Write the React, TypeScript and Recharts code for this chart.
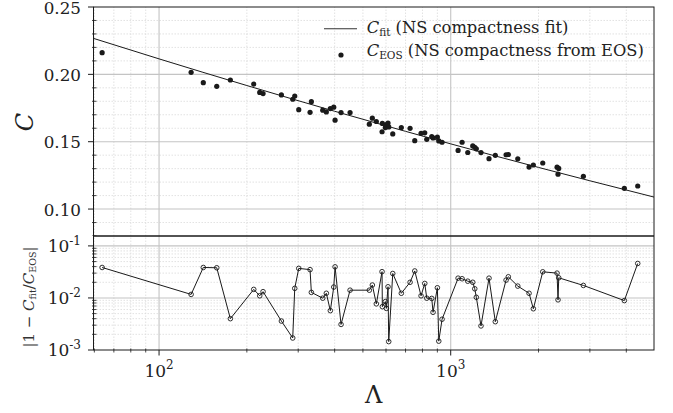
import React from "react"
import { ComposedChart, Line, Scatter, XAxis, YAxis, ReferenceLine } from "recharts"

// Λ of every EOS point (shared by both panels)
const lambdaEos = [
  63.8, 128.8, 141.8, 157.7, 175.6, 211.2, 221.4, 227.3, 262.7, 287.3,
  291.9, 301.3, 329.4, 332.8, 364.1, 374.6, 386.6, 397.2, 401.3, 420.7,
  451.8, 526.0, 538.6, 555.9, 581.5, 582.9, 596.8, 601.5, 609.6, 613.0,
  632.8, 677.1, 725.5, 752.9, 791.2, 814.7, 827.7, 860.9, 869.8, 900,
  910, 934, 1060, 1094, 1144, 1190, 1209, 1224, 1270, 1353,
  1422, 1548, 1576, 1698, 1856, 1920, 2068, 2315, 2333, 2346,
  2850, 3938, 4377,
]

// compactness from EOS
const cEos = [
  0.2161, 0.2015, 0.1938, 0.1911, 0.1958, 0.1928, 0.1866, 0.1857, 0.1847, 0.1815,
  0.1839, 0.1738, 0.1718, 0.1797, 0.1734, 0.1721, 0.1746, 0.1756, 0.166, 0.1716,
  0.1716, 0.163, 0.1675, 0.165, 0.1574, 0.1636, 0.1605, 0.1627, 0.1639, 0.161,
  0.1558, 0.1605, 0.1599, 0.1508, 0.1562, 0.1566, 0.1518, 0.1538, 0.1528, 0.1535,
  0.1506, 0.1496, 0.1435, 0.1496, 0.142, 0.1469, 0.1458, 0.1447, 0.1419, 0.1374,
  0.1399, 0.1403, 0.1405, 0.1373, 0.1312, 0.1327, 0.1342, 0.1311, 0.1259, 0.1302,
  0.1243, 0.1154, 0.1171,
]

// |1 - Cfit/Ceos|
const relErr = [
  0.0385, 0.0117, 0.0385, 0.038, 0.004, 0.0146, 0.011, 0.0132, 0.0036, 0.0017,
  0.0153, 0.037, 0.035, 0.0128, 0.0099, 0.0123, 0.0057, 0.0162, 0.0396, 0.0031,
  0.0141, 0.0141, 0.0177, 0.0077, 0.032, 0.0068, 0.0085, 0.0063, 0.0164, 0.00145,
  0.0295, 0.0123, 0.02, 0.033, 0.011, 0.019, 0.0099, 0.0098, 0.0053, 0.0157,
  0.00148, 0.0039, 0.024, 0.0234, 0.021, 0.02, 0.015, 0.0103, 0.0029, 0.024,
  0.0035, 0.022, 0.0255, 0.0169, 0.0123, 0.0062, 0.0318, 0.03, 0.0092, 0.0244,
  0.0174, 0.0089, 0.046,
]

// fit curve
const fitLambda = [59.6, 100, 200, 400, 700, 1000, 2000, 3000, 4977]
const fitC = [0.2267, 0.2115, 0.1917, 0.1726, 0.1577, 0.1484, 0.1309, 0.121, 0.1089]

const xTicks = [60, 70, 80, 90, 100, 200, 300, 400, 500, 600, 700, 800, 900, 1000, 2000, 3000, 4000]
const xMajor = [100, 1000]
const cTicks = [0.08, 0.09, 0.1, 0.11, 0.12, 0.13, 0.14, 0.15, 0.16, 0.17, 0.18, 0.19, 0.2, 0.21, 0.22, 0.23, 0.24, 0.25]
const cMajor = [0.1, 0.15, 0.2, 0.25]
const errTicks = [
  0.001, 0.002, 0.003, 0.004, 0.005, 0.006, 0.007, 0.008, 0.009,
  0.01, 0.02, 0.03, 0.04, 0.05, 0.06, 0.07, 0.08, 0.09, 0.1,
]
const errMajor = [0.001, 0.01, 0.1]

const eosData = lambdaEos.map((lam, i) => ({ lam, c: cEos[i] }))
const errData = lambdaEos.map((lam, i) => ({ lam, r: relErr[i] }))
const fitData = fitLambda.map((lam, i) => ({ lam, c: fitC[i] }))

const SERIF = "DejaVu Serif"
const INK = "#1a1a1a"
const LABEL = "#222"
const GRID_MAJOR = "#c4c4c4"
const GRID_MINOR = "#dadada"

const XDOMAIN = [59.6, 4977]

function XTick(props: any) {
  const { x, y, payload } = props
  const v = payload.value
  const major = xMajor.includes(v)
  return (
    <g>
      <line x1={x} x2={x} y1={major ? y : y - 1.5} y2={major ? y + 5.5 : y + 2.5} stroke={INK} strokeWidth={major ? 1 : 0.8} />
      {major && (
        <text x={x} y={y + 27} textAnchor="middle" fontFamily={SERIF} fontSize={17} fill={LABEL}>
          10<tspan dy={-8} fontSize={12}>{Math.round(Math.log10(v))}</tspan>
        </text>
      )}
    </g>
  )
}

function CTick(props: any) {
  const { x, y, payload } = props
  const v = payload.value
  const major = cMajor.includes(v)
  return (
    <g>
      <line x1={major ? x - 5.5 : x - 1.5} x2={major ? x : x + 3} y1={y} y2={y} stroke={INK} strokeWidth={major ? 1 : 0.8} />
      {major && (
        <text x={x - 12.5} y={y + 6.5} textAnchor="end" fontFamily={SERIF} fontSize={16.8} fill={LABEL}>
          {v.toFixed(2)}
        </text>
      )}
    </g>
  )
}

function ErrTick(props: any) {
  const { x, y, payload } = props
  const v = payload.value
  const major = errMajor.includes(v)
  return (
    <g>
      <line x1={major ? x - 5.5 : x - 1.5} x2={major ? x : x + 3} y1={y} y2={y} stroke={INK} strokeWidth={major ? 1 : 0.8} />
      {major && (
        <text x={x - 12.5} y={y + 6} textAnchor="end" fontFamily={SERIF} fontSize={17} fill={LABEL}>
          10<tspan dy={-7} fontSize={12}>{"-" + Math.round(-Math.log10(v))}</tspan>
        </text>
      )}
    </g>
  )
}

function EosDot(props: any) {
  return <circle cx={props.cx} cy={props.cy} r={2.6} fill={INK} />
}

export default function App() {
  const minorX = xTicks.filter((t) => !xMajor.includes(t))
  const minorC = cTicks.filter((t) => !cMajor.includes(t) && t > 0.08)
  const minorErr = errTicks.filter((t) => !errMajor.includes(t))

  return (
    <div style={{ position: "absolute", left: 0, top: 0, width: 673, height: 413, background: "#fff" }}>
      {/* upper panel: C vs Lambda */}
      <div style={{ position: "absolute", left: 0, top: 0 }}>
        <ComposedChart width={673} height={236} margin={{ top: 7, right: 19, bottom: 0, left: 0 }}>
          <XAxis dataKey="lam" type="number" scale="log" domain={XDOMAIN} allowDataOverflow hide />
          <YAxis
            type="number"
            domain={[0.08, 0.25]}
            ticks={cTicks}
            allowDataOverflow
            width={93.5}
            axisLine={false}
            tickLine={false}
            tickSize={0}
            tickMargin={0}
            tick={<CTick />}
            interval={0}
          />
          {minorX.map((v) => (
            <ReferenceLine key={"mx" + v} x={v} stroke={GRID_MINOR} strokeDasharray="1.5 1.5" strokeWidth={0.8} />
          ))}
          {minorC.map((v) => (
            <ReferenceLine key={"mc" + v} y={v} stroke={GRID_MINOR} strokeDasharray="1.5 1.5" strokeWidth={0.8} />
          ))}
          {xMajor.map((v) => (
            <ReferenceLine key={"Mx" + v} x={v} stroke={GRID_MAJOR} strokeWidth={1.1} />
          ))}
          {cMajor.filter((v) => v < 0.25).map((v) => (
            <ReferenceLine key={"Mc" + v} y={v} stroke={GRID_MAJOR} strokeWidth={1.1} />
          ))}
          <Line data={fitData} dataKey="c" type="monotone" stroke={INK} strokeWidth={1} dot={false} isAnimationActive={false} />
          <Scatter data={eosData} dataKey="c" shape={<EosDot />} isAnimationActive={false} />
        </ComposedChart>
      </div>

      {/* lower panel: relative error */}
      <div style={{ position: "absolute", left: 0, top: 0 }}>
        <ComposedChart width={673} height={413} margin={{ top: 236, right: 19, bottom: 0, left: 0 }}>
          <XAxis
            dataKey="lam"
            type="number"
            scale="log"
            domain={XDOMAIN}
            allowDataOverflow
            ticks={xTicks}
            interval={0}
            height={63}
            axisLine={false}
            tickLine={false}
            tickSize={0}
            tickMargin={0}
            tick={<XTick />}
          />
          <YAxis
            type="number"
            scale="log"
            domain={[0.001, 0.155]}
            ticks={errTicks}
            allowDataOverflow
            width={93.5}
            axisLine={false}
            tickLine={false}
            tickSize={0}
            tickMargin={0}
            tick={<ErrTick />}
            interval={0}
          />
          {minorX.map((v) => (
            <ReferenceLine key={"mx" + v} x={v} stroke={GRID_MINOR} strokeDasharray="1.5 1.5" strokeWidth={0.8} />
          ))}
          {minorErr.map((v) => (
            <ReferenceLine key={"me" + v} y={v} stroke={GRID_MINOR} strokeDasharray="1.5 1.5" strokeWidth={0.8} />
          ))}
          {xMajor.map((v) => (
            <ReferenceLine key={"Mx" + v} x={v} stroke={GRID_MAJOR} strokeWidth={1.1} />
          ))}
          {errMajor.filter((v) => v > 0.001).map((v) => (
            <ReferenceLine key={"Me" + v} y={v} stroke={GRID_MAJOR} strokeWidth={1.1} />
          ))}
          <Line
            data={errData}
            dataKey="r"
            type="linear"
            stroke={INK}
            strokeWidth={1}
            dot={{ r: 2.3, stroke: INK, strokeWidth: 0.9, fill: "none" }}
            isAnimationActive={false}
          />
        </ComposedChart>
      </div>

      {/* frame, legend and axis titles */}
      <svg width={673} height={413} style={{ position: "absolute", left: 0, top: 0, pointerEvents: "none" }}>
        <rect x={93.5} y={7} width={560.5} height={343} fill="none" stroke={INK} strokeWidth={1} />
        <line x1={93.5} x2={654} y1={236} y2={236} stroke={INK} strokeWidth={1.6} />

        <line x1={324} x2={357} y1={28.7} y2={28.7} stroke="#333" strokeWidth={1.1} />
        <text x={366.7} y={33} fontFamily={SERIF} fontSize={16.3} fill={LABEL}>
          <tspan fontStyle="italic">C</tspan>
          <tspan fontSize={10.5} dy={3}>fit</tspan>
          <tspan dy={-3}> (NS compactness fit)</tspan>
        </text>
        <circle cx={341} cy={55} r={2.6} fill={INK} />
        <text x={366.7} y={56} fontFamily={SERIF} fontSize={16.3} fill={LABEL}>
          <tspan fontStyle="italic">C</tspan>
          <tspan fontSize={10.5} dy={3}>EOS</tspan>
          <tspan dy={-3}> (NS compactness from EOS)</tspan>
        </text>

        <text
          x={25}
          y={122}
          transform="rotate(-90 25 122)"
          textAnchor="middle"
          dominantBaseline="central"
          fontFamily={SERIF}
          fontStyle="italic"
          fontSize={24}
          fill={LABEL}
        >
          C
        </text>
        <text
          x={29}
          y={297}
          transform="rotate(-90 29 297)"
          textAnchor="middle"
          dominantBaseline="central"
          fontFamily={SERIF}
          fontSize={15}
          fill="#333"
        >
          |1 − <tspan fontStyle="italic">C</tspan>
          <tspan fontSize={9.5} dy={3}>fit</tspan>
          <tspan dy={-3}>/</tspan>
          <tspan fontStyle="italic">C</tspan>
          <tspan fontSize={9.5} dy={3}>EOS</tspan>
          <tspan dy={-3}>|</tspan>
        </text>
        <text x={373.7} y={403} textAnchor="middle" fontFamily={SERIF} fontSize={24} fill={LABEL}>
          Λ
        </text>
      </svg>
    </div>
  )
}
